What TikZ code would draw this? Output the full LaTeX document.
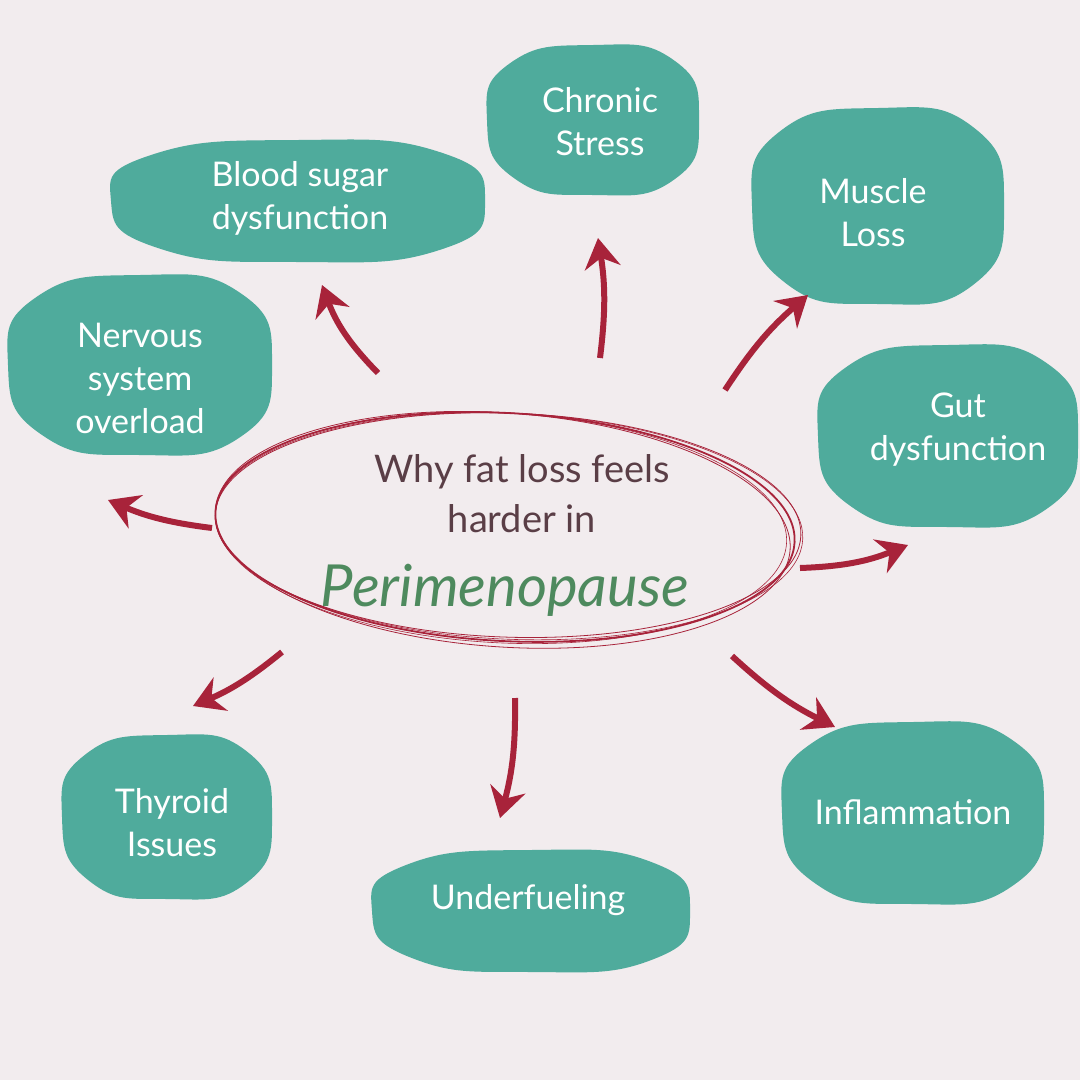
\documentclass[tikz,border=0pt]{standalone}
\usepackage{fontspec}
\setmainfont{Lato}
\usetikzlibrary{arrows.meta}
\definecolor{bg}{HTML}{F2ECEE}
\definecolor{teal}{HTML}{4FAB9C}
\definecolor{rd}{HTML}{A8233A}
\definecolor{dk}{HTML}{5A3E46}
\definecolor{gr}{HTML}{4E8A5E}
\newcommand\myblob[4]{% cx cy rx ry
 \fill[teal] plot[smooth cycle,tension=0.9] coordinates{
 ({#1+#3},{#2}) ({#1+0.76*#3},{#2+0.8*#4}) ({#1},{#2+#4}) ({#1-0.74*#3},{#2+0.78*#4})
 ({#1-#3},{#2}) ({#1-0.78*#3},{#2-0.76*#4}) ({#1},{#2-#4}) ({#1+0.76*#3},{#2-0.8*#4})};}
\tikzset{lbl/.style={text=white,font=\fontsize{34}{43}\selectfont,align=center},
 arr/.style={rd,line width=6pt,-{Stealth[length=30pt,width=36pt,inset=10pt]}}}
\begin{document}
\begin{tikzpicture}[x=1pt,y=-1pt]
\fill[bg] (0,0) rectangle (1080,1080);
\useasboundingbox (0,0) rectangle (1080,1080);
\myblob{298}{201}{187}{61}
\myblob{593}{120}{106}{75}
\myblob{878}{206}{126}{98}
\myblob{140}{365}{132}{90}
\myblob{948}{436}{130}{91}
\myblob{167}{817}{105}{82}
\myblob{531}{911}{159}{61}
\myblob{913}{813}{131}{91}
\node[lbl] (bs) at (300,198) {Blood sugar\\dysfunction};
\node[lbl] (cs) at (600,122) {Chronic\\Stress};
\node[lbl] (ml) at (873,213) {Muscle\\Loss};
\node[lbl] (ns) at (140,378) {Nervous\\system\\overload};
\node[lbl] (gd) at (958,430) {Gut\\dysfunction};
\node[lbl] (th) at (172,823) {Thyroid\\Issues};
\node[lbl] (uf) at (528,900) {Underfueling};
\node[lbl] (in) at (913,812) {Inflammation};
\foreach \a/\dx/\dy/\w in {-3/0/0/1.8,-2/3/-2/0.8,-4/-2/3/0.8,-3/-4/1/0.6,-2.5/4/-1/0.6}
 \draw[rd,line width=\w pt,rotate around={\a:(505,527)}] ({505+\dx},{527+\dy}) ellipse ({290+\dx} and {114+\dy});
\node[text=dk,font=\fontsize{38}{50}\selectfont,align=center] (t1) at (522,494) {Why fat loss feels\\harder in};
\node[text=gr,font=\fontsize{58}{58}\selectfont\itshape] (t2) at (505,590) {Perimenopause};
\coordinate (a1) at (378,373); \coordinate (b1) at (322,285);
\coordinate (a2) at (600,358); \coordinate (b2) at (598,238);
\coordinate (a3) at (725,390); \coordinate (b3) at (808,295);
\coordinate (a4) at (212,528); \coordinate (b4) at (108,500);
\coordinate (a5) at (800,568); \coordinate (b5) at (908,545);
\coordinate (a6) at (282,652); \coordinate (b6) at (193,706);
\coordinate (a7) at (515,698); \coordinate (b7) at (500,818);
\coordinate (a8) at (732,656); \coordinate (b8) at (835,727);
\draw[arr] (a1) to[bend left=12] (b1);
\draw[arr] (a2) to[bend right=8] (b2);
\draw[arr] (a3) to[bend left=8] (b3);
\draw[arr] (a4) to[bend left=8] (b4);
\draw[arr] (a5) to[bend right=10] (b5);
\draw[arr] (a6) to[bend left=8] (b6);
\draw[arr] (a7) to[bend left=8] (b7);
\draw[arr] (a8) to[bend right=8] (b8);
\end{tikzpicture}
\end{document}
